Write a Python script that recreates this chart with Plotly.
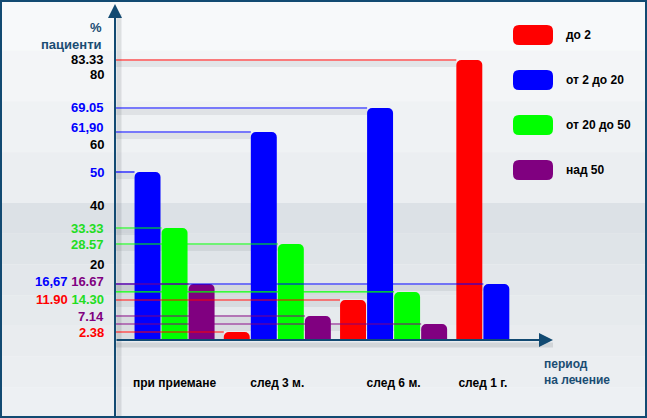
import plotly.graph_objects as go

# data (percent of patients)
periods = ["при приемане", "след 3 м.", "след 6 м.", "след 1 г."]
series_names = ["до 2", "от 2 до 20", "от 20 до 50", "над 50"]
red_vals = [0, 2.38, 11.90, 83.33]
blue_vals = [50, 61.90, 69.05, 16.67]
green_vals = [33.33, 28.57, 14.30, 0]
purple_vals = [16.67, 7.14, 4.76, 0]

colors = ["#ff0000", "#0000ff", "#00ff00", "#800080"]

# value labels along the y axis: (text, value, colour)
axis_labels = [
  ("83.33", 83.33, "black"),
  ("80", 80, "black"),
  ("69.05", 69.05, "#0000ff"),
  ("61,90", 61.90, "#0000ff"),
  ("60", 60, "black"),
  ("50", 50, "#0000ff"),
  ("40", 40, "black"),
  ("33.33", 33.33, "#22dd22"),
  ("28.57", 28.57, "#22dd22"),
  ("20", 20, "black"),
  ("<span style='color:#0000ff'>16,67</span> 16.67", 16.67, "#800080"),
  ("<span style='color:#ff0000'>11.90</span> 14.30", 13.1, "#22dd22"),
  ("7.14", 7.14, "#800080"),
  ("2.38", 2.38, "#ff0000"),
]
label_shift = {"83.33": 1, "80": -3, "61,90": 5, "60": -6, "20": 8,
               axis_labels[10][0]: 2, axis_labels[11][0]: -4}

W, H = 647, 418
L, R, T, B = 115, 94, 4, 78
PW, PH = W - L - R, H - T - B
X_RANGE = [-0.396, 3.371]
Y_RANGE = [0, 100]
BARGAP, GROUPGAP = 0.07, 0.04
NAVY = "#124a72"
TXT = "#1a4d73"
FONT = "Liberation Sans, Arial, sans-serif"


def px(x):  # pixel -> paper x
  return (x - L) / PW


def py(y):  # pixel -> paper y
  return (H - B - y) / PH


fig = go.Figure()
all_vals = [red_vals, blue_vals, green_vals, purple_vals]
for name, vals, c in zip(series_names, all_vals, colors):
  fig.add_trace(go.Bar(
    name=name, x=list(range(len(periods))), y=vals,
    marker=dict(color=c, line=dict(width=0), cornerradius=5),
    showlegend=False,
  ))

shapes = []
# background: light top, darker band fading lighter to the bottom
top_steps = ["#f7f9fa", "#f3f5f7", "#eff2f4", "#ebeef1"]
for i, c in enumerate(top_steps):
  y0 = i * 203 / len(top_steps)
  y1 = (i + 1) * 203 / len(top_steps)
  shapes.append(dict(type="rect", xref="paper", yref="paper", layer="below",
                     x0=px(0), x1=px(W), y0=py(y1), y1=py(y0),
                     fillcolor=c, line=dict(width=0)))
band_steps = ["#dce1e6", "#dfe4e8", "#e3e7eb", "#e6eaed", "#e9ecef", "#ebeef1", "#edf0f3"]
for i, c in enumerate(band_steps):
  y0 = 203 + i * (H - 203) / len(band_steps)
  y1 = 203 + (i + 1) * (H - 203) / len(band_steps)
  shapes.append(dict(type="rect", xref="paper", yref="paper", layer="below",
                     x0=px(0), x1=px(W), y0=py(y1), y1=py(y0),
                     fillcolor=c, line=dict(width=0)))

# horizontal reference lines from the y axis to the top-left of each bar
slot = (1 - BARGAP) / 4
unit_px = PH / (Y_RANGE[1] - Y_RANGE[0])
tick_pos = []
for i in range(len(periods)):
  centers = [i - (1 - BARGAP) / 2 + (k + 0.5) * slot for k in range(4) if all_vals[k][i]]
  tick_pos.append(sum(centers) / len(centers))
for k, vals in enumerate(all_vals):
  for i, v in enumerate(vals):
    if not v:
      continue
    x_left = i - (1 - BARGAP) / 2 + k * slot + slot * GROUPGAP / 2
    shapes.append(dict(type="line", xref="x", yref="y", layer="below",
                       x0=X_RANGE[0], x1=x_left, y0=v - 4 / unit_px, y1=v - 4 / unit_px,
                       line=dict(color="rgba(110,115,120,0.12)", width=6)))
    shapes.append(dict(type="line", xref="x", yref="y", layer="above",
                       x0=X_RANGE[0], x1=x_left, y0=v, y1=v,
                       line=dict(color=colors[k], width=1.2)))

# axis shadows
shapes.append(dict(type="line", xref="paper", yref="paper", layer="below",
                   x0=px(L + 4), x1=px(L + 4), y0=py(H), y1=py(14),
                   line=dict(color="rgba(90,95,100,0.16)", width=5)))
shapes.append(dict(type="line", xref="paper", yref="paper", layer="below",
                   x0=px(L), x1=px(W - R), y0=py(H - B + 5), y1=py(H - B + 5),
                   line=dict(color="rgba(90,95,100,0.16)", width=5)))

# legend swatches (rounded rectangles)
leg_x0, leg_x1 = 513, 553
leg_rows = [35, 80, 125, 170]
rr = 6
for c, yc in zip(colors, leg_rows):
  x0, x1, y0, y1 = leg_x0, leg_x1, yc - 10, yc + 10
  path = (f"M{px(x0 + rr)},{py(y0)} L{px(x1 - rr)},{py(y0)} Q{px(x1)},{py(y0)} {px(x1)},{py(y0 + rr)} "
          f"L{px(x1)},{py(y1 - rr)} Q{px(x1)},{py(y1)} {px(x1 - rr)},{py(y1)} "
          f"L{px(x0 + rr)},{py(y1)} Q{px(x0)},{py(y1)} {px(x0)},{py(y1 - rr)} "
          f"L{px(x0)},{py(y0 + rr)} Q{px(x0)},{py(y0)} {px(x0 + rr)},{py(y0)} Z")
  shapes.append(dict(type="path", xref="paper", yref="paper", path=path,
                     fillcolor=c, line=dict(width=0)))

# outer border
shapes.append(dict(type="rect", xref="paper", yref="paper",
                   x0=px(1), x1=px(W - 1), y0=py(H - 1), y1=py(1),
                   line=dict(color=NAVY, width=2)))

annotations = []
for text, v, c in axis_labels:
  annotations.append(dict(xref="paper", yref="y", x=px(106), y=v, text=f"<b>{text}</b>",
                          showarrow=False, xanchor="right", yanchor="middle",
                          yshift=label_shift.get(text, 0),
                          font=dict(family=FONT, size=13, color=c)))
for name, yc in zip(series_names, leg_rows):
  annotations.append(dict(xref="paper", yref="paper", x=px(564), y=py(yc), text=f"<b>{name}</b>",
                          showarrow=False, xanchor="left", yanchor="middle",
                          font=dict(family=FONT, size=12, color="black")))
annotations.append(dict(xref="paper", yref="paper", x=px(104), y=py(36), text="<b>%<br>пациенти</b>",
                        showarrow=False, xanchor="right", yanchor="middle", align="right",
                        font=dict(family=FONT, size=13, color=TXT)))
annotations.append(dict(xref="paper", yref="paper", x=px(542), y=py(372), text="<b>период<br>на лечение</b>",
                        showarrow=False, xanchor="left", yanchor="middle", align="left",
                        font=dict(family=FONT, size=12, color=TXT)))
# axes drawn as arrows
annotations.append(dict(xref="paper", yref="paper", x=0, y=1, ax=0, ay=PH + B, text="",
                        showarrow=True, arrowhead=2, arrowsize=1.4, arrowwidth=2,
                        arrowcolor=NAVY, standoff=0))
annotations.append(dict(xref="paper", yref="paper", x=1, y=0, ax=-PW, ay=0, text="",
                        showarrow=True, arrowhead=2, arrowsize=1.4, arrowwidth=2,
                        arrowcolor=NAVY, standoff=0))

fig.update_layout(
  width=W, height=H,
  margin=dict(l=L, r=R, t=T, b=B),
  barmode="group", bargap=BARGAP, bargroupgap=GROUPGAP,
  paper_bgcolor="#f3f5f7", plot_bgcolor="rgba(0,0,0,0)",
  font=dict(family=FONT, size=12, color="black"),
  xaxis=dict(range=X_RANGE, tickmode="array", tickvals=tick_pos,
             ticktext=[f"<b>{p}</b>" for p in periods], showgrid=False, zeroline=False,
             showline=False, ticks="", ticklabelstandoff=34,
             tickfont=dict(family=FONT, size=12, color="black")),
  yaxis=dict(range=Y_RANGE, showgrid=False, zeroline=False, showline=False,
             showticklabels=False, ticks=""),
  shapes=shapes,
  annotations=annotations,
)

fig.write_html("out.html", config=dict(displayModeBar=False),
               post_script="document.body.style.margin='0';")
